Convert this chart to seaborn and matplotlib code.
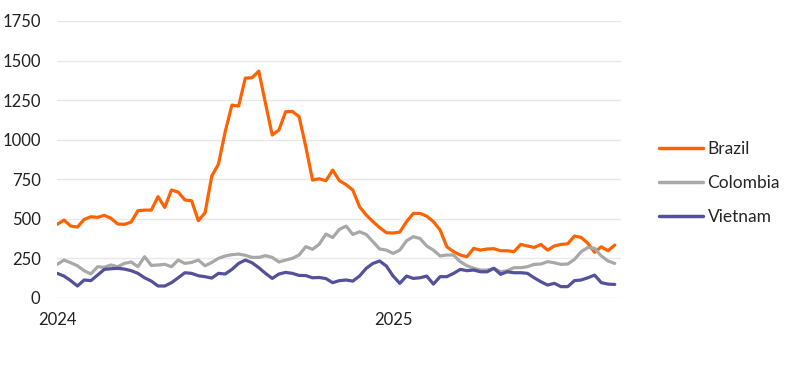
import numpy as np
import matplotlib.pyplot as plt
import seaborn as sns
import pandas as pd

# weekly observations, index 0 = first week of 2024
brazil = [464, 491, 453, 447, 495, 512, 508, 521, 502, 466, 464, 478, 550, 554, 554, 639,
          571, 681, 668, 618, 613, 487, 537, 769, 845, 1050, 1218, 1212, 1389, 1391, 1433, 1229,
          1029, 1060, 1176, 1178, 1145, 955, 744, 752, 740, 807, 740, 715, 681, 575,
          523, 481, 443, 411, 409, 415, 481, 533, 533, 516, 481, 428, 322, 291, 270, 259,
          312, 301, 308, 310, 297, 297, 291, 337, 327, 318, 337, 301, 327, 337, 341, 390,
          381, 344, 287, 322, 297, 333]
colombia = [211, 238, 221, 202, 171, 150, 196, 192, 207, 196, 217, 226, 196, 259, 204, 207,
            211, 196, 238, 217, 223, 238, 202, 223, 249, 264, 272, 276, 268, 255, 255, 266,
            255, 226, 238, 249, 270, 323, 306, 338, 403, 380, 432, 453, 400, 417,
            400, 354, 308, 301, 280, 301, 360, 386, 375, 327, 301, 264, 270, 270, 228, 202,
            186, 175, 175, 186, 164, 171, 190, 190, 196, 211, 213, 228, 221, 211, 213, 242,
            291, 318, 312, 264, 232, 217]
vietnam = [154, 137, 108, 74, 112, 108, 143, 179, 183, 186, 181, 171, 154, 126, 105, 74,
           74, 95, 126, 158, 154, 139, 133, 124, 154, 150, 179, 217, 238, 221, 190, 154,
           122, 150, 160, 154, 141, 140, 126, 128, 121, 95, 108, 112, 105, 137,
           186, 217, 232, 200, 137, 91, 137, 122, 126, 137, 86, 133, 133, 154, 179, 171,
           175, 164, 164, 186, 148, 164, 158, 158, 154, 126, 101, 80, 91, 70, 70, 108,
           112, 126, 143, 95, 86, 84]

countries = ["Brazil", "Colombia", "Vietnam"]
year_ticks = [0, 50]
year_labels = ["2024", "2025"]
y_ticks = [0, 250, 500, 750, 1000, 1250, 1500, 1750]

week = np.arange(len(brazil))
df = pd.concat([
    pd.DataFrame({"week": week, "value": vals, "country": name})
    for name, vals in zip(countries, [brazil, colombia, vietnam])
])

sns.set_style("white")
plt.rcParams["font.family"] = ["Lato", "DejaVu Sans"]

fig = plt.figure(figsize=(8, 3.68), dpi=100)
ax = fig.add_axes([0.0716, 0.191, 0.7044, 0.752])

palette = {"Brazil": "#FF6200", "Colombia": "#A8A8A8", "Vietnam": "#525199"}
sns.lineplot(data=df, x="week", y="value", hue="country", palette=palette,
             linewidth=2.3, ax=ax)

ax.set_xlim(0, len(brazil) - 1 + 0.9)
ax.set_ylim(0, 1750)
ax.set_yticks(y_ticks)
ax.set_xticks(year_ticks)
ax.set_xticklabels(year_labels)
ax.set_xlabel("")
ax.set_ylabel("")
ax.grid(axis="y", color="#E8E8E8", linewidth=1)
ax.set_axisbelow(True)
for s in ax.spines.values():
    s.set_visible(False)
ax.tick_params(axis="both", length=0, labelsize=12, colors="#222222")
ax.tick_params(axis="y", pad=12)
ax.tick_params(axis="x", pad=10)

leg = ax.legend(loc="center left", bbox_to_anchor=(1.04, 0.415), frameon=False,
                fontsize=12.5, handlelength=2.55, handletextpad=0.25, labelspacing=1.05)
for line in leg.get_lines():
    line.set_linewidth(2.5)

fig.savefig("out.png", dpi=100)
